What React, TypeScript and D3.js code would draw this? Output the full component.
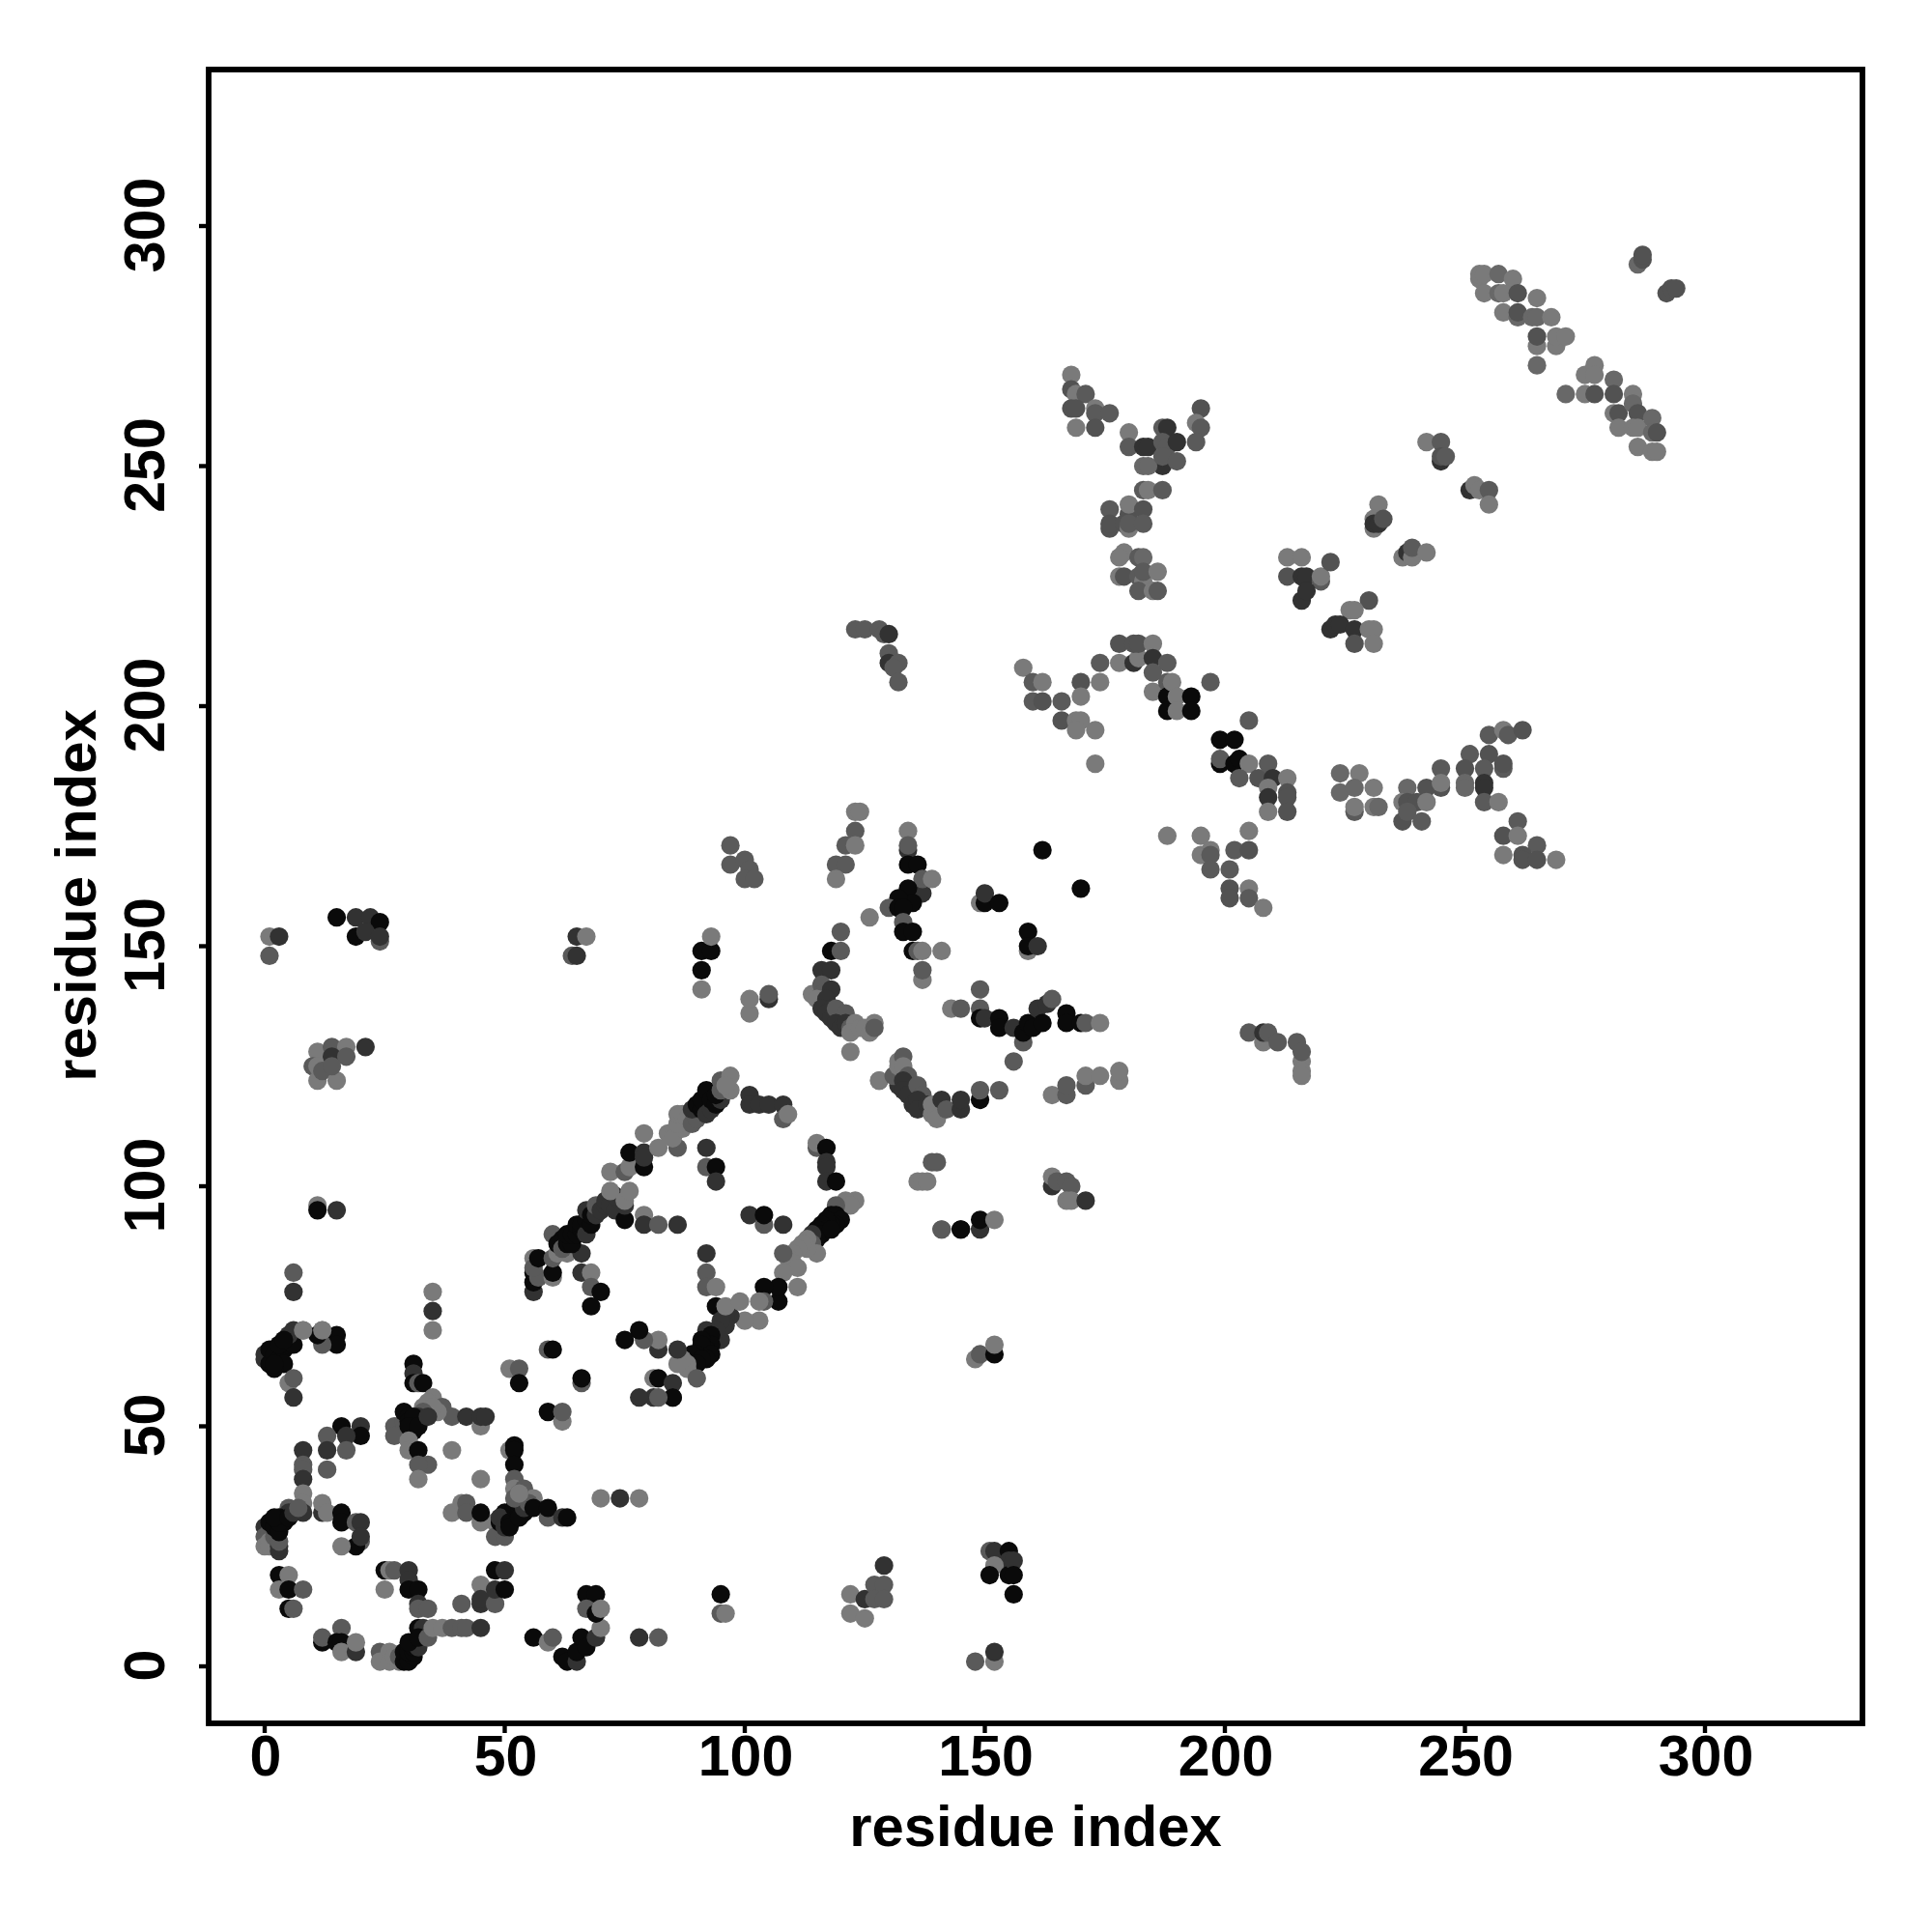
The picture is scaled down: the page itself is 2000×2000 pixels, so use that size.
import React from "react";
import * as d3 from "d3";

// shades
const B = 10, D = 50, M = 90, L = 122;
// paler shades seen in the top-right clusters
const T = 82, U = 104;
type P = [number, number, number];

const lowerLeft: P[] = [
[6,82,M],[6,78,D],[8,70,L],[12,70,L],[6,70,D],[15,69,B],[15,67,B],[12,67,M],[11,69,B],[0,65,D],[0,64,D],[1,66,B],[1,63,B],[2,65,B],[3,64,B],[4,66,B],[4,63,B],[5,67,B],[2,62,B],[3,67,B],[2,63,B],[6,67,B],[5,69,D],[4,68,B],[8,70,L],[12,70,L],
[5,59,L],[6,60,M],[6,56,D],
[8,45,D],[8,42,M],[8,41,M],[8,39,D],[8,36,L],[8,34,L],[8,32,D],[5,33,M],[5,32,D],[0,29,D],[0,27,M],[0,25,L],[1,28,M],[1,26,L],[1,25,L],[2,27,M],[3,24,D],[3,25,D],[3,26,M],[1,30,B],[2,29,B],[3,28,B],[3,31,B],[4,30,B],[3,30,B],[2,31,B],[5,31,B],[6,32,D],[7,33,M],[12,32,D],[12,34,L],[13,32,L],[16,32,B],[16,30,B],[19,30,M],[20,30,D],[20,26,M],[19,25,B],[16,25,L],[20,27,D],
[16,50,B],[20,50,D],[20,48,B],[17,48,D],[13,48,M],[13,45,D],[17,45,M],[13,41,M],
[3,19,B],[5,19,L],[3,16,L],[5,16,B],[8,16,M],[5,12,B],[6,12,M],
[12,5,B],[12,6,M],[16,8,M],[15,5,B],[16,5,B],[16,3,L],[19,3,D],[19,5,L],
[24,3,M],[24,1,L],[26,3,L],[26,1,L],[28,1,L],[27,2,L],[28,2,M],[29,1,B],[29,3,B],[30,2,B],[30,1,B],[31,2,B],[30,3,B],[31,3,B],[31,4,B],[32,4,D],[30,5,B],[32,8,B],[33,8,D],[32,6,B],[34,6,M],[35,8,L],[37,8,L],[39,8,M],[41,8,M],[42,8,M],[45,8,D],
[25,20,B],[26,20,L],[27,20,M],[30,20,D],[30,18,D],[25,16,L],[30,16,B],[32,16,B],[32,13,D],[32,12,M],[34,12,M],
[41,13,M],[45,13,D],[45,17,L],[45,14,D],[48,13,M],[48,20,B],[50,20,D],[48,16,D],[50,16,B],
[56,6,B],[59,5,L],[60,6,M],[62,2,B],[63,1,B],[65,1,D],[65,3,B],[66,6,B],[67,4,B],[69,6,D],[70,8,L],[67,15,B],[69,15,B],[67,12,M],[69,11,B],[70,12,L],[78,6,D],[82,6,M],
];

const midLeft: P[] = [
[51,45,L],[52,46,B],[52,45,B],[52,42,B],[52,39,M],[52,37,L],[54,37,M],[56,35,L],[53,36,M],[50,32,B],[50,31,B],[52,31,B],[54,32,B],[48,30,L],[48,27,M],[50,27,M],[49,30,B],[49,31,D],[50,29,D],[51,30,B],[51,29,B],[52,33,B],[53,32,B],[53,31,B],[53,34,B],[54,33,D],[52,35,M],[55,34,M],[53,36,L],[56,33,B],[59,31,M],[59,33,B],[62,31,D],[63,31,B],
[45,39,L],[39,32,L],[41,34,L],[42,34,M],[42,32,M],[45,30,L],[45,32,B],
[70,35,L],[74,35,D],[78,35,L],
[31,63,B],[31,61,D],[31,59,B],[32,59,M],[33,59,B],[35,56,L],[37,54,M],[39,52,M],[33,54,L],[36,53,L],[42,52,D],[45,50,L],[45,52,D],[46,52,D],[27,50,M],[27,48,M],[29,51,M],[34,55,L],[35,54,L],[33,53,M],[32,52,D],[29,53,B],[30,52,B],[30,51,B],[31,52,B],[31,49,B],[30,50,B],[32,50,B],[34,52,D],[30,47,L],[30,45,L],[32,45,B],[34,42,M],[32,42,M],[32,39,L],[39,45,L],
[35,78,L],[35,74,D],[35,70,L],
[51,62,L],[53,62,M],[53,59,B],[59,66,M],[60,66,B],[66,59,M],[66,60,B],[59,53,B],[62,51,L],[62,53,M],
];

const upperStrip: P[] = [
[56,78,D],[56,80,B],[56,82,B],[57,81,M],[56,85,L],[56,83,M],[57,85,B],[60,81,L],[60,82,B],[60,85,M],[61,86,L],[63,86,L],[66,86,D],[60,90,M],[62,89,B],[61,88,B],[62,87,M],[63,88,B],[64,88,B],[63,90,B],[64,90,B],[65,90,B],[65,92,B],[66,91,B],[66,92,B],[67,90,D],[67,93,B],[67,95,D],[68,92,B],[68,94,B],[69,94,D],[69,96,M],[70,95,D],[71,96,D],[71,97,D],[72,96,D],[73,95,D],[74,97,D],[73,98,D],[75,93,B],[75,96,D],[72,99,L],[75,97,L],[76,99,L],[72,103,L],[75,103,M],[76,104,L],[79,104,B],[76,107,B],[79,107,D],[79,106,D],[82,108,L],[79,111,L],[86,108,M],[84,111,L],[85,110,L],[87,112,L],[86,113,L],[86,115,L],[87,115,L],[88,114,L],[89,113,M],[90,114,M],[89,116,D],[90,117,B],[91,116,B],[91,118,B],[92,115,D],[93,116,D],[92,120,B],[93,118,B],[94,117,B],[95,118,D],[94,119,B],[95,120,M],[95,122,M],[97,120,L],[97,123,L],[96,121,L],
[92,108,D],[92,104,M],[94,104,B],[94,101,D],
[101,119,D],[101,117,D],[103,117,D],[105,117,D],[108,117,D],[108,114,M],[109,115,L],
[115,108,M],[115,109,L],[117,108,B],[117,105,D],[117,104,D],[117,101,D],[119,101,B],
[79,94,L],[79,92,D],[82,92,M],[86,92,D],[66,82,D],[68,82,L],[68,79,M],[70,78,B],[68,75,B],
[92,86,D],[92,82,M],[92,79,M],[94,79,L],[101,94,D],[104,92,M],[104,94,B],[108,92,D],
[128,122,L],[139,105,M],[140,105,M],[136,101,L],[137,101,L],[138,101,L],[141,91,L],[145,91,B],
];

const lowerStrip: P[] = [
[123,97,L],[121,97,L],[122,96,L],[119,96,M],[118,94,B],[119,94,B],[120,93,B],[119,92,B],[118,92,B],[117,93,B],[116,92,B],[117,91,B],[115,91,B],[116,90,B],[118,91,B],[115,89,B],[114,90,D],[114,88,M],[113,89,L],[115,86,L],[113,87,L],[112,88,L],[111,87,L],[110,86,L],[109,85,L],[110,84,L],[108,86,M],[111,83,L],[108,82,L],[111,79,L],
[107,76,B],[107,79,B],[104,79,B],[104,76,M],[103,76,L],[103,72,L],[100,72,L],[94,75,B],[97,73,D],[96,73,D],[96,71,D],[95,72,D],[95,68,D],[94,70,D],[92,70,D],[93,69,B],[93,67,B],[92,66,B],[91,68,B],[91,67,B],[90,65,B],[89,65,B],[93,65,B],[92,64,B],[91,64,B],[90,63,B],[96,75,L],[99,76,L],[88,63,L],[88,62,L],[87,64,L],[86,63,L],[90,60,M],[86,66,D],
[82,66,D],[82,68,L],[79,68,M],[78,70,B],[75,68,B],[81,60,L],[82,60,B],[85,59,D],[81,56,D],[85,56,M],[85,56,B],[82,56,M],[78,56,D],
];

const centre: P[] = [
[123,178,L],[124,178,L],[123,174,M],[121,171,M],[123,171,L],[119,167,M],[121,167,M],[119,164,L],
[134,174,L],[134,170,D],[134,171,M],[134,167,B],[136,167,B],[137,161,D],[137,164,M],[139,164,L],[134,162,B],[135,159,B],[132,160,B],[130,158,M],[132,158,B],[133,158,B],[126,156,L],[133,155,M],[133,153,B],[135,153,B],[135,149,B],[136,149,M],[137,149,L],[141,149,L],[137,143,L],[137,145,M],
[120,153,M],[118,149,B],[120,149,M],[116,145,D],[118,145,D],[114,140,L],[116,142,M],[116,140,M],[115,139,L],[118,141,D],[117,139,D],[116,137,D],[118,137,D],[117,136,D],[118,135,D],[119,137,M],[121,136,M],[119,134,D],[120,133,D],[121,134,D],[122,133,M],[123,134,L],[122,132,L],[124,133,L],[125,133,L],[126,132,L],[127,134,L],[127,133,M],[122,128,L],
[162,170,B],[170,162,B],[149,159,L],[150,159,B],[150,161,D],[153,159,B],[159,153,B],[159,149,L],[159,150,B],[161,150,D],
[149,141,M],[143,137,L],[145,137,M],[149,137,M],[149,135,B],[150,135,D],[153,135,B],[153,133,B],[156,133,D],[158,130,M],[158,132,B],[159,134,B],[160,133,B],[161,137,D],[162,134,B],[163,138,D],[164,139,M],[167,136,B],[167,134,B],[170,134,B],[171,134,M],[174,134,L],
[156,126,M],[128,122,L],[132,121,D],[132,124,M],[131,123,M],[132,125,L],[132,126,L],[133,127,M],[133,125,L],[134,123,M],[133,122,D],[133,120,D],[134,119,D],[136,121,M],[135,117,D],[137,119,M],[136,118,D],[136,116,D],[138,117,D],[139,115,L],[139,117,L],[140,114,L],[141,118,D],[142,116,M],[145,116,D],[145,118,D],[149,118,B],[149,120,M],[153,120,M],
[164,119,L],[167,119,M],[167,121,M],[171,121,M],[171,123,L],[174,123,L],[178,122,L],[178,124,L],
[164,100,D],[164,102,L],[165,101,M],[167,101,M],[168,100,M],[167,97,L],[168,97,L],[171,97,D],
[141,91,M],[145,91,B],[149,91,D],[149,93,B],[152,93,L],
[148,1,M],[152,1,L],[152,3,D],
[205,132,M],[208,130,L],[208,132,D],[209,132,M],[211,130,M],[215,130,M],[216,126,L],[216,128,M],[216,124,L],[216,123,L],
];

const farLeft: P[] = [
[1,152,L],[3,152,D],[1,148,M],[15,156,B],[19,156,D],[22,156,D],[24,155,B],[19,152,B],[21,153,D],[24,151,M],[24,152,D],
[11,128,L],[14,129,M],[17,129,L],[21,129,D],[10,125,M],[11,125,L],[11,122,L],[12,124,M],[14,127,D],[15,122,L],[17,127,M],[14,125,M],
[11,96,L],[11,95,B],[15,95,D],
[64,148,M],[65,148,D],[65,152,D],[67,152,L],
[91,141,L],[91,145,B],[91,149,B],[93,149,B],[93,152,L],
[97,171,M],[97,167,M],[100,168,M],[101,166,M],[100,164,M],[102,164,M],
[101,136,L],[101,139,L],[105,139,D],[105,140,M],
[95,15,B],[95,11,M],[96,11,L],
[122,15,L],[122,11,L],[125,14,D],[125,10,L],[127,17,M],[127,14,M],[129,17,M],[129,14,M],[129,21,D],
[151,24,M],[152,24,D],[155,24,B],[155,22,D],[152,21,L],[151,19,B],[155,19,B],[156,22,D],[156,19,B],[156,15,B],
[148,64,L],[149,65,M],[152,65,B],[152,67,L],
];

const upperMid: P[] = [
[123,216,M],[125,216,M],[128,216,M],[129,215,M],[130,215,D],[130,211,M],[130,209,D],[132,209,M],[131,208,M],[132,205,M],
[158,208,L],[160,205,M],[162,205,L],[160,201,M],[162,201,T],[166,201,M],[170,205,T],[170,202,L],[174,209,M],[174,205,L],[166,197,T],[169,197,L],[170,197,L],[169,195,L],[173,195,L],[173,188,L],
[178,213,T],[178,209,L],[181,209,D],[182,210,L],[181,213,T],[182,213,T],[185,213,L],[185,210,D],[188,209,M],[185,207,M],[185,203,L],[188,205,M],[188,202,B],[188,199,B],[189,205,L],[190,202,L],[190,199,L],[193,202,B],[193,199,B],[197,205,M],
[205,197,M],[199,193,B],[202,193,B],[199,188,B],[199,189,M],[202,188,B],[203,189,B],[205,188,L],[203,185,M],[207,185,T],[209,188,M],[210,185,D],[213,185,L],[209,183,L],[209,181,D],[213,182,T],[213,181,T],[209,178,L],[213,178,T],
[188,173,L],[195,173,L],[197,170,L],[195,169,L],[197,169,M],[197,166,M],[201,166,M],[202,170,M],[205,170,T],[205,174,L],[201,162,T],[201,160,T],[205,162,L],[205,160,M],[208,158,L],
];

const upperY: P[] = [
[168,269,L],[168,266,T],[169,265,L],[171,265,M],[168,262,T],[169,262,T],[173,262,L],[173,261,M],[176,261,M],[169,258,L],[173,258,T],
[180,257,L],[180,254,M],[183,254,D],[184,254,D],[187,258,M],[188,258,D],[187,255,M],[188,254,M],[190,255,D],[187,250,D],[183,250,U],[184,250,U],[187,252,M],[190,251,M],[195,262,T],[194,259,L],[195,258,M],[194,255,M],
[183,245,M],[184,245,L],[187,245,M],[176,241,M],[180,240,T],[180,242,L],[183,241,T],[176,237,T],[176,238,T],[179,238,T],[180,237,L],[180,238,M],[183,238,M],
[179,232,L],[178,231,L],[182,231,M],[183,231,U],[178,227,L],[179,227,T],[182,227,M],[183,226,L],[183,228,M],[186,228,L],[182,224,M],[185,224,L],[186,224,M],
];

const upperRight: P[] = [
[213,231,L],[216,231,L],[213,227,T],[216,227,D],[217,227,D],[220,226,M],[220,227,L],[222,230,T],[216,222,D],[217,224,D],
[230,222,T],[226,220,L],[227,220,L],[222,216,D],[223,217,D],[224,217,D],[227,216,D],[227,213,T],[230,216,L],[231,216,L],[231,213,L],
[232,242,L],[231,237,L],[231,239,L],[231,238,D],[232,238,D],[233,239,T],
[237,231,L],[238,232,D],[239,231,L],[239,233,M],[242,232,L],
[242,255,L],[245,255,M],[245,251,D],[245,252,T],[246,252,M],
[251,245,D],[252,246,L],[253,245,L],[255,245,M],[255,242,L],
[224,186,U],[224,182,U],[228,186,L],[227,183,U],[231,183,L],[227,178,M],[227,179,L],[231,179,L],[232,179,U],
[238,183,U],[242,183,T],[245,187,M],[245,183,T],[245,184,L],[237,180,L],[238,180,T],[240,180,T],[242,180,L],[237,176,T],[238,178,M],[241,176,M],
[251,190,M],[250,187,T],[250,184,U],[250,183,U],[255,190,T],[254,187,M],[258,187,M],[258,188,T],[254,184,D],[254,183,D],[254,180,M],[257,180,L],[255,194,M],[258,195,L],[259,194,M],[262,195,T],
[261,176,M],[258,173,T],[261,173,L],[265,171,M],[258,169,L],[262,169,T],[262,168,T],[265,168,T],[269,168,L],
];

const topDiagonal: P[] = [
[253,289,L],[253,290,L],[254,290,L],[257,290,U],[260,289,L],[254,286,L],[257,286,U],[258,286,L],[261,286,T],[265,285,L],[258,282,L],[261,281,U],[261,282,T],[264,281,U],[265,281,U],[268,281,L],[265,275,L],[265,277,T],[269,275,L],[269,277,L],[271,277,L],[265,271,U],
[275,269,L],[277,271,L],[277,269,L],[271,265,U],[275,265,L],[277,265,T],[281,268,U],[281,265,T],[285,265,L],[281,261,L],[282,261,T],[285,263,U],[286,261,T],[282,258,L],[285,258,L],[286,258,L],[289,260,U],[289,257,U],[290,257,T],[286,254,L],[289,253,L],[290,253,L],
[286,292,U],[287,293,T],[287,294,T],[292,286,T],[293,287,T],[294,287,T],
];

const clusters = [lowerLeft, midLeft, upperStrip, lowerStrip, centre, farLeft, upperMid, upperY, upperRight, topDiagonal];
const tickValues = [0, 50, 100, 150, 200, 250, 300];
const axisTitle = "residue index";

const FRAME = { left: 216, right: 1928, top: 72, bottom: 1784 };
const x = d3.scaleLinear().domain([0, 300]).range([274, 1765]);
const y = d3.scaleLinear().domain([0, 300]).range([1725, 234]);
const font = "'Liberation Sans', Arial, sans-serif";
const FS = 59;
const TITLE_FS = 59.8;

export default function App() {
  return (
    <svg width={2000} height={2000} viewBox="0 0 2000 2000"
      style={{ position: "absolute", left: 0, top: 0, background: "#fff" }}>
      <g>
        {clusters.flat().map((p, i) => {
          const g = p[2];
          return <circle key={i} cx={x(p[0])} cy={y(p[1])} r={9.6} fill={d3.rgb(g, g, g).formatHex()} />;
        })}
      </g>
      <rect x={FRAME.left} y={FRAME.top} width={FRAME.right - FRAME.left} height={FRAME.bottom - FRAME.top}
        fill="none" stroke="#000" strokeWidth={5.8} />
      {tickValues.map((t) => (
        <g key={t}>
          <line x1={x(t)} x2={x(t)} y1={FRAME.bottom} y2={FRAME.bottom + 10} stroke="#000" strokeWidth={4.4} />
          <text x={x(t) + 1} y={1838} textAnchor="middle" fontFamily={font} fontWeight="bold" fontSize={FS}>{t}</text>
          <line x1={FRAME.left} x2={FRAME.left - 10} y1={y(t)} y2={y(t)} stroke="#000" strokeWidth={4.4} />
          <text transform={`translate(170,${y(t) - 1}) rotate(-90)`} textAnchor="middle" fontFamily={font} fontWeight="bold" fontSize={FS}>{t}</text>
        </g>
      ))}
      <text x={1072} y={1911} textAnchor="middle" fontFamily={font} fontWeight="bold" fontSize={TITLE_FS}>{axisTitle}</text>
      <text transform="translate(99,927) rotate(-90)" textAnchor="middle" fontFamily={font} fontWeight="bold" fontSize={TITLE_FS}>{axisTitle}</text>
    </svg>
  );
}
